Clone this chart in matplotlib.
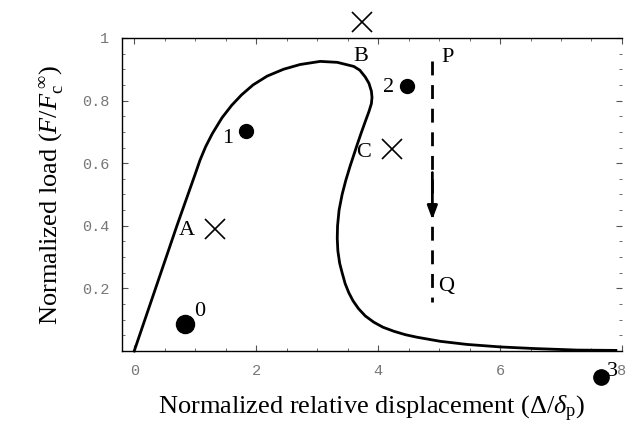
import numpy as np
import matplotlib.pyplot as plt

plt.rcParams['mathtext.fontset'] = 'custom'
plt.rcParams['mathtext.rm'] = 'Liberation Serif'
plt.rcParams['mathtext.it'] = 'Liberation Serif:italic'

# load-displacement curve
curve_x = [0.0, 0.35, 0.70, 1.00, 1.08, 1.17, 1.28, 1.44, 1.60, 1.76, 1.95, 2.18,
           2.45, 2.72, 3.05, 3.33, 3.60, 3.70, 3.79, 3.85, 3.89, 3.90, 3.89, 3.85,
           3.79, 3.72, 3.65, 3.54, 3.47, 3.41, 3.36, 3.335, 3.33, 3.34, 3.37, 3.41,
           3.46, 3.52, 3.59, 3.68, 3.79, 3.93, 4.08, 4.26, 4.45, 4.64, 5.02, 5.46,
           6.01, 6.55, 7.27, 7.90]
curve_y = [0.0, 0.20, 0.40, 0.565, 0.61, 0.652, 0.694, 0.745, 0.785, 0.818, 0.850, 0.878,
           0.900, 0.915, 0.925, 0.922, 0.909, 0.897, 0.875, 0.855, 0.83, 0.81, 0.79, 0.765,
           0.733, 0.695, 0.655, 0.59, 0.545, 0.50, 0.45, 0.40, 0.36, 0.32, 0.28, 0.25,
           0.215, 0.186, 0.16, 0.135, 0.112, 0.092, 0.076, 0.063, 0.052, 0.044, 0.031, 0.021,
           0.013, 0.008, 0.003, 0.002]

# state points
dot_x = [0.84, 1.84, 4.47, 7.66]
dot_y = [0.085, 0.703, 0.848, -0.084]
dot_lab = ['0', '1', '2', '3']
cross_x = [1.33, 3.73, 4.22]
cross_y = [0.39, 1.05, 0.646]
cross_lab = ['A', 'B', 'C']

pq_x = 4.89
pq_top, pq_bot, arrow_tip = 0.927, 0.155, 0.42

fig = plt.figure(figsize=(6.27, 4.26), dpi=100)
ax = fig.add_axes([0.1946, 0.176, 0.7974, 0.735])
serif = 'Liberation Serif'

ax.plot(curve_x, curve_y, '-', color='black', lw=2.0, solid_joinstyle='round',
        clip_on=False)

# dots
sizes = [13, 10, 10, 11]
for x, y, s in zip(dot_x, dot_y, sizes):
    ax.plot(x, y, 'o', color='black', ms=s, clip_on=False)
lab_off = [(0.24, 0.04), (-0.30, -0.025), (-0.30, -0.007), (0.19, 0.02)]
for x, y, t, (dx, dy) in zip(dot_x, dot_y, dot_lab, lab_off):
    ax.text(x + dx, y + dy, t, family=serif, fontsize=16, ha='center', va='center',
            clip_on=False)

# crosses
ax.plot(cross_x, cross_y, 'x', color='black', ms=15, mew=1.2, clip_on=False)
cross_off = [(-0.46, -0.005), (-0.01, -0.11), (-0.46, -0.012)]
for x, y, t, (dx, dy) in zip(cross_x, cross_y, cross_lab, cross_off):
    ax.text(x + dx, y + dy, t, family=serif, fontsize=16, ha='center', va='center',
            clip_on=False)

# P -> Q unloading path
ax.plot([pq_x, pq_x], [pq_top, pq_bot], '--', color='black', lw=2.0, dashes=(5, 3.5))
ax.annotate('', xy=(pq_x, arrow_tip), xytext=(pq_x, 0.57),
            arrowprops=dict(arrowstyle='-|>,head_length=0.8,head_width=0.3',
                            color='black', lw=2.0, shrinkA=0, shrinkB=0))
ax.text(5.14, 0.937, 'P', family=serif, fontsize=16, ha='center', va='center')
ax.text(5.12, 0.206, 'Q', family=serif, fontsize=16, ha='center', va='center')

ax.set_xlim(-0.2, 8)
ax.set_ylim(0, 1)
ax.set_xticks([0, 2, 4, 6, 8])
ax.set_xticks(np.arange(0, 8.01, 0.5), minor=True)
ax.set_yticks([0.2, 0.4, 0.6, 0.8, 1])
ax.set_yticklabels(['0.2', '0.4', '0.6', '0.8', '1'])
ax.set_yticks(np.arange(0.05, 1.0, 0.05), minor=True)
ax.tick_params(which='both', direction='in', top=True, right=True, colors='#555555',
               labelcolor='#777777', labelsize=11, pad=9)
ax.tick_params(which='major', length=4, width=0.8)
ax.tick_params(which='minor', length=2, width=0.6)
for lab in ax.get_xticklabels() + ax.get_yticklabels():
    lab.set_family('Liberation Mono')
ax.spines['right'].set_visible(False)
for s in ['left', 'bottom', 'top']:
    ax.spines[s].set_linewidth(1.0)

ax.set_xlabel(r'Normalized relative displacement ($\Delta/\delta_{\rm p}$)',
              family=serif, fontsize=19, labelpad=12)
ax.set_ylabel(r'Normalized load ($F/F_{\rm c}^{\;\infty}$)',
              family=serif, fontsize=19, labelpad=12)

fig.savefig('out.png', dpi=100)
